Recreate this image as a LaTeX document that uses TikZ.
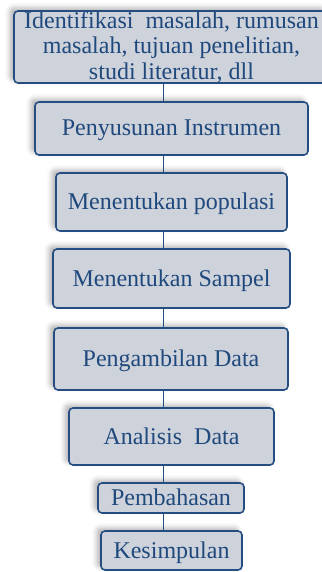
\documentclass[tikz,border=0pt]{standalone}
\usepackage{fontspec}
\setmainfont{Liberation Serif}
\usetikzlibrary{shadows.blur}
\definecolor{boxfill}{RGB}{206,210,219}
\definecolor{boxline}{RGB}{38,77,130}
\definecolor{boxtext}{RGB}{31,73,125}
\tikzset{
  stepbox/.style={draw=boxline, line width=1.6pt, fill=boxfill, rounded corners=4pt,
    text=boxtext, font=\fontsize{24}{25.5}\selectfont, inner sep=0pt,
    blur shadow={shadow xshift=-4pt, shadow yshift=3pt, shadow opacity=30, shadow blur radius=5pt}},
  onebox/.style={stepbox, text height=15pt, text depth=0pt},
  link/.style={draw=boxline, line width=1.5pt}
}
\begin{document}
\begin{tikzpicture}[x=1pt,y=-1pt]
\useasboundingbox (0,0) rectangle (321,572);
\coordinate (cx) at (163.5,0);
\node[stepbox, minimum width=315pt, minimum height=72pt, align=center] (b1) at (171.5,47)
  {Identifikasi~~masalah, rumusan\\masalah, tujuan penelitian,\\studi literatur, dll};
\node[onebox, minimum width=273pt, minimum height=53pt] (b2) at (171.5,128.5) {Penyusunan Instrumen};
\node[onebox, minimum width=231pt, minimum height=58pt] (b3) at (171.5,202) {Menentukan populasi};
\node[onebox, minimum width=237pt, minimum height=59pt] (b4) at (171.5,278.5) {Menentukan Sampel};
\node[onebox, minimum width=234pt, minimum height=62pt] (b5) at (171,359) {Pengambilan Data};
\node[onebox, minimum width=205pt, minimum height=57pt] (b6) at (171.5,436.5) {Analisis~~Data};
\node[onebox, minimum width=146pt, minimum height=30pt] (b7) at (171,498) {Pembahasan};
\node[onebox, minimum width=141pt, minimum height=39pt] (b8) at (171.5,550.5) {Kesimpulan};
\draw[link] (b1.south -| cx) -- (b2.north -| cx);
\draw[link] (b2.south -| cx) -- (b3.north -| cx);
\draw[link] (b3.south -| cx) -- (b4.north -| cx);
\draw[link] (b4.south -| cx) -- (b5.north -| cx);
\draw[link] (b5.south -| cx) -- (b6.north -| cx);
\draw[link] (b6.south -| cx) -- (b7.north -| cx);
\draw[link] (b7.south -| cx) -- (b8.north -| cx);
\end{tikzpicture}
\end{document}
